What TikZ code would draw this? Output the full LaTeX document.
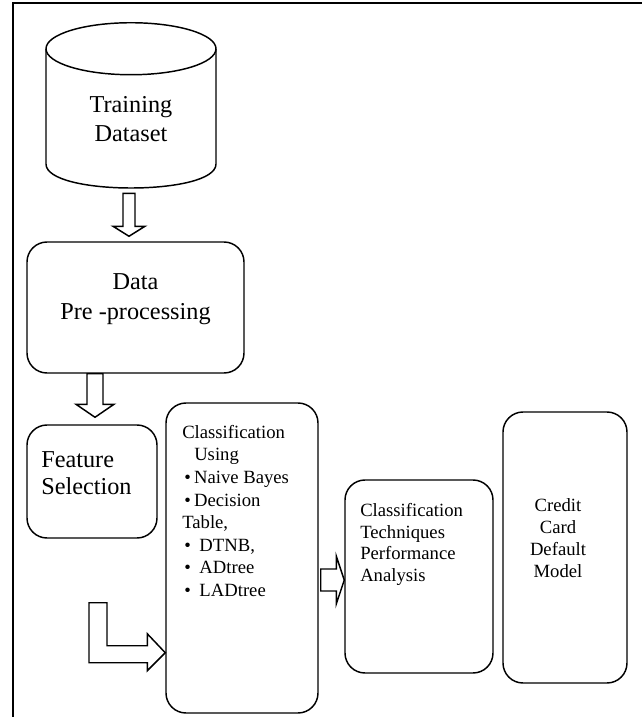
\documentclass[tikz,border=0pt]{standalone}
\usepackage{fontspec}
\setmainfont{Liberation Serif}
\usetikzlibrary{calc}

% hollow block arrow pointing down: #1 shaft start, #2 tip, #3 shaft half width, #4 head half width, #5 head length
\newcommand\hollowdown[5]{%
  \draw[blockarrow] ($(#1)+(-#3,0)$) -- ($(#2)+(-#3,-#5)$) -- ($(#2)+(-#4,-#5)$) -- (#2)
    -- ($(#2)+(#4,-#5)$) -- ($(#2)+(#3,-#5)$) -- ($(#1)+(#3,0)$) -- cycle;}
% hollow block arrow pointing right
\newcommand\hollowright[5]{%
  \draw[blockarrow] ($(#1)+(0,-#3)$) -- ($(#2)+(-#5,-#3)$) -- ($(#2)+(-#5,-#4)$) -- (#2)
    -- ($(#2)+(-#5,#4)$) -- ($(#2)+(-#5,#3)$) -- ($(#1)+(0,#3)$) -- cycle;}

\begin{document}
\begin{tikzpicture}[x=0.75pt,y=-0.75pt,
  box/.style={draw, line width=1.1pt, rounded corners=15pt, inner sep=0pt},
  blockarrow/.style={draw, line width=1.1pt, fill=white, line join=miter},
  bigtext/.style={inner sep=0pt, font=\fontsize{18.2}{#1}\selectfont},
  smalltext/.style={inner sep=0pt, font=\fontsize{14}{#1}\selectfont}]

\useasboundingbox (0,0) rectangle (642,717);

% page frame (top and left edges)
\draw[line width=1.5pt] (13,717) -- (13,3) -- (642,3);

% training dataset cylinder
\node[minimum width=127.5pt, minimum height=123.75pt, inner sep=0pt] (dataset) at (131,105.5) {};
\draw[line width=1.1pt, fill=white] (46,49) -- (46,164) .. controls (46,196) and (216,196) .. (216,164) -- (216,49);
\draw[line width=1.1pt] ($(dataset.north)+(0,26)$) ellipse [x radius=85, y radius=26];
\node[bigtext=21.75pt, align=center, anchor=north] (datasettext) at (131,96) {Training\\Dataset};

% process boxes
\node[box, minimum width=162.75pt, minimum height=98.25pt] (prep) at (135.5,307.5) {};
\node[bigtext=22.5pt, align=center, anchor=north] (preptext) at (135.5,273) {Data\\Pre -processing};

\node[box, minimum width=97.5pt, minimum height=84.75pt] (feat) at (92,481.5) {};
\node[bigtext=20.25pt, align=left, anchor=north west] (feattext) at (41,451) {Feature\\Selection};

\node[box, minimum width=114pt, minimum height=232.5pt] (cls) at (242,558) {};
\node[smalltext=16.9pt, align=left, anchor=north west] (clstext) at (182,425) {Classification\\
\hspace*{9pt}Using\\
\hspace*{1.5pt}\textbullet\hspace{2.5pt}Naive Bayes\\
\hspace*{1.5pt}\textbullet\hspace{2.5pt}Decision\\
Table,\\
\hspace*{1.5pt}\textbullet\hspace{6.5pt}DTNB,\\
\hspace*{1.5pt}\textbullet\hspace{6.5pt}ADtree\\
\hspace*{1.5pt}\textbullet\hspace{6.5pt}LADtree};

\node[box, minimum width=111pt, minimum height=144.75pt] (ana) at (419,576.5) {};
\node[smalltext=16.3pt, align=left, anchor=north west] (anatext) at (360,503) {Classification\\Techniques\\Performance\\Analysis};

\node[box, minimum width=93pt, minimum height=203.25pt] (credit) at (565,547.5) {};
\node[smalltext=16.5pt, align=center, anchor=north] (credittext) at (558,498) {Credit\\Card\\Default\\Model};

% block arrows between stages
\coordinate (a1s) at ($(dataset.south)+(-2,5)$);
\coordinate (a1t) at ($(a1s |- prep.north)+(0,-5)$);
\hollowdown{a1s}{a1t}{6}{16}{10}

\coordinate (a2s) at ($(prep.south)+(-40.5,0)$);
\coordinate (a2t) at ($(a2s |- feat.north)+(0,-7)$);
\hollowdown{a2s}{a2t}{8}{19}{13}

\coordinate (a3s) at ($(feat.south)+(6,64)$);
\coordinate (a3t) at ($(cls.south west)+(0,-61)$);
\draw[blockarrow] ($(a3s)+(-9,0)$) -- ($(a3s |- a3t)+(-9,10)$) -- ($(a3t)+(-18,10)$)
  -- ($(a3t)+(-18,18)$) -- (a3t) -- ($(a3t)+(-18,-19)$) -- ($(a3t)+(-18,-7)$)
  -- ($(a3s |- a3t)+(9,-7)$) -- ($(a3s)+(9,0)$) -- cycle;

\coordinate (a4s) at ($(cls.east)+(2,22)$);
\coordinate (a4t) at (a4s -| ana.west);
\hollowright{a4s}{a4t}{11}{24}{8}

\end{tikzpicture}
\end{document}
